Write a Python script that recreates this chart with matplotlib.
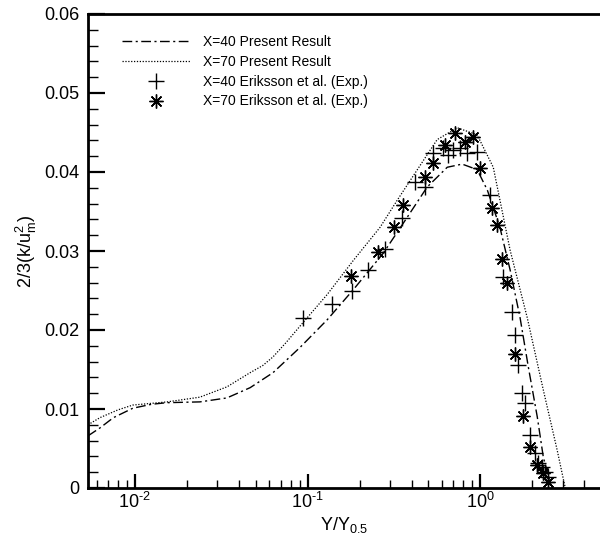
import matplotlib
matplotlib.use("Agg")
import matplotlib.pyplot as plt
from matplotlib.ticker import MultipleLocator, LogLocator, NullFormatter

plt.rcParams['font.family'] = ['Liberation Sans', 'DejaVu Sans']
plt.rcParams['mathtext.fontset'] = 'custom'
plt.rcParams['mathtext.rm'] = 'Liberation Sans'
plt.rcParams['mathtext.it'] = 'Liberation Sans'
plt.rcParams['mathtext.default'] = 'regular'

# X=40 present result (dash-dot)
x40_line = [0.00535, 0.00627, 0.0075, 0.00973, 0.0125, 0.01535, 0.0238, 0.0341, 0.0465,
            0.0631, 0.0905, 0.130, 0.184, 0.274, 0.358, 0.493, 0.644, 0.786, 0.96,
            1.10, 1.30, 1.49, 1.70, 1.90, 2.14, 2.32, 2.55, 2.62]
y40_line = [0.0066, 0.0076, 0.0089, 0.0101, 0.0106, 0.0108, 0.0109, 0.0114, 0.0127,
            0.0146, 0.0178, 0.0213, 0.0251, 0.0297, 0.0335, 0.0381, 0.0406, 0.0410, 0.0403,
            0.0377, 0.0330, 0.0276, 0.0216, 0.0153, 0.0090, 0.0039, 0.0006, 0.0]

# X=70 present result (dotted)
x70_line = [0.00535, 0.00627, 0.0080, 0.00973, 0.0154, 0.0238, 0.0341, 0.0465, 0.055,
            0.0631, 0.075, 0.0905, 0.130, 0.184, 0.263, 0.330, 0.409, 0.563, 0.736, 0.96,
            1.19, 1.49, 1.87, 2.32, 2.79, 3.08, 3.12]
y70_line = [0.0080, 0.0089, 0.0099, 0.0105, 0.0109, 0.0115, 0.0128, 0.0146, 0.0155,
            0.0166, 0.0184, 0.0205, 0.0245, 0.0288, 0.0330, 0.0364, 0.0395, 0.0441, 0.0456,
            0.0447, 0.0406, 0.0301, 0.0216, 0.0124, 0.0048, 0.0004, 0.0]

# X=40 Eriksson et al. (Exp.)
x40_exp = [0.0942, 0.1387, 0.181, 0.224, 0.281, 0.353, 0.420, 0.480, 0.534, 0.610, 0.652,
           0.697, 0.766, 0.841, 0.961, 1.14, 1.36, 1.53, 1.60, 1.66, 1.75, 1.82, 1.95,
           2.08, 2.17, 2.29, 2.38, 2.48]
y40_exp = [0.0215, 0.0233, 0.0249, 0.0276, 0.0303, 0.0342, 0.0387, 0.0381, 0.0424, 0.0430,
           0.0422, 0.0428, 0.0430, 0.0424, 0.0425, 0.0371, 0.0267, 0.0223, 0.0194, 0.0156,
           0.0120, 0.0108, 0.0067, 0.0044, 0.0032, 0.0027, 0.0020, 0.0014]

# X=70 Eriksson et al. (Exp.)
x70_exp = [0.179, 0.256, 0.317, 0.358, 0.480, 0.534, 0.627, 0.716, 0.819, 0.911, 1.00,
           1.17, 1.25, 1.34, 1.43, 1.60, 1.77, 1.95, 2.14, 2.32, 2.48]
y70_exp = [0.0268, 0.0299, 0.0330, 0.0358, 0.0394, 0.0411, 0.0434, 0.0449, 0.0438, 0.0444,
           0.0405, 0.0354, 0.0333, 0.0290, 0.0259, 0.0170, 0.0091, 0.0052, 0.0029, 0.0019,
           0.0008]

y_ticks = [0, 0.01, 0.02, 0.03, 0.04, 0.05, 0.06]
y_tick_labels = ['0', '0.01', '0.02', '0.03', '0.04', '0.05', '0.06']
x_ticks = [0.01, 0.1, 1.0]
x_tick_labels = [r'$10^{\text{-}2}$', r'$10^{\text{-}1}$', r'$10^{0}$']

fig = plt.figure(figsize=(6, 5.4), dpi=100)
ax = fig.add_axes([88/600, 52/540, 512/600, 474/540])

ax.plot(x40_line, y40_line, color='black', lw=1.0, dashes=(7, 2.5, 1.5, 2.5),
        label='X=40 Present Result')
ax.plot(x70_line, y70_line, color='black', lw=0.9, dashes=(1, 1.3),
        label='X=70 Present Result')
ax.plot(x40_exp, y40_exp, linestyle='none', marker='+', ms=11, mew=1.0, color='black',
        label='X=40 Eriksson et al. (Exp.)')
ax.plot(x70_exp, y70_exp, linestyle='none', marker=(8, 2, 0), ms=10, mew=1.0, color='black',
        label='X=70 Eriksson et al. (Exp.)')

ax.set_xscale('log')
ax.set_xlim(0.00535, 4.94)
ax.set_ylim(0, 0.06)

ax.set_yticks(y_ticks)
ax.set_yticklabels(y_tick_labels)
ax.yaxis.set_minor_locator(MultipleLocator(0.002))
ax.set_xticks(x_ticks)
ax.set_xticklabels(x_tick_labels)
ax.xaxis.set_minor_locator(LogLocator(base=10, subs=range(2, 10)))
ax.xaxis.set_minor_formatter(NullFormatter())

ax.tick_params(which='both', direction='in', top=False, right=False, colors='black')
ax.tick_params(axis='y', which='major', length=12, width=1.6, pad=6, labelsize=13)
ax.tick_params(axis='y', which='minor', length=7, width=1.0)
ax.tick_params(axis='x', which='major', length=10, width=1.6, pad=3, labelsize=13)
ax.tick_params(axis='x', which='minor', length=6, width=1.0)

for s in ['left', 'bottom', 'top']:
    ax.spines[s].set_linewidth(2.0)
ax.spines['right'].set_visible(False)

ax.set_ylabel(r'2/3(k/u$_m^2$)', fontsize=13, labelpad=4)
ax.set_xlabel(r'Y/Y$_{0.5}$', fontsize=13, labelpad=2)

leg = ax.legend(loc='upper left', bbox_to_anchor=(122/600, 1 - 35/540),
                bbox_transform=fig.transFigure, frameon=False, fontsize=10,
                handlelength=4.9, handletextpad=0.9, labelspacing=0.42,
                borderpad=0, borderaxespad=0)

fig.savefig('out.png', dpi=100)
